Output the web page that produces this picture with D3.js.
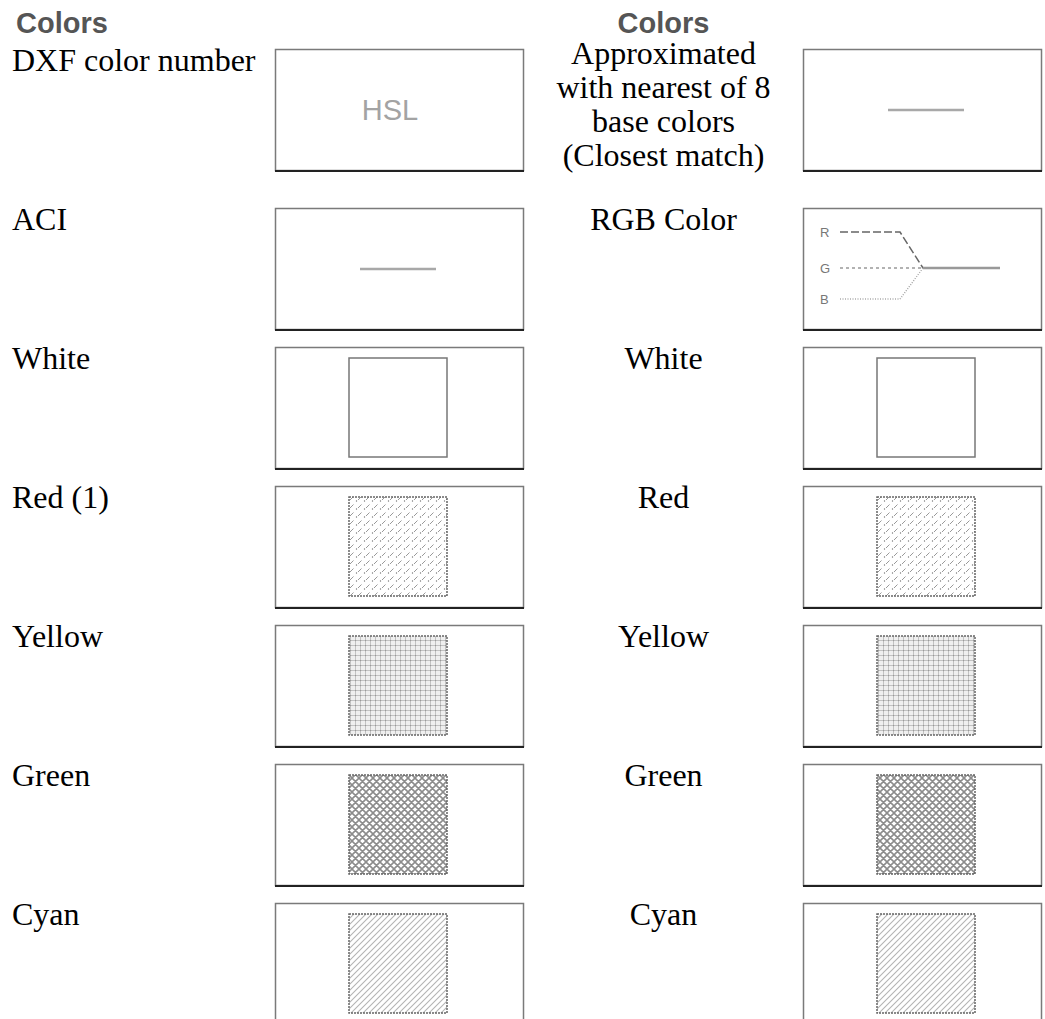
<!DOCTYPE html>
<html>
<head>
<meta charset="utf-8">
<script src="https://cdn.jsdelivr.net/npm/d3@7"></script>
<style>
  body { margin: 0; background: #fff; }
</style>
</head>
<body>
<div id="chart"></div>
<script>
// table content
var headers = ['Colors', 'Colors'];
var leftLabels = ['DXF color number', 'ACI', 'White', 'Red (1)', 'Yellow', 'Green', 'Cyan'];
var rightLabels = [
  ['Approximated', 'with nearest of 8', 'base colors', '(Closest match)'],
  ['RGB Color'], ['White'], ['Red'], ['Yellow'], ['Green'], ['Cyan']
];
var leftSwatches = ['hsl', 'line', 'white', 'red', 'yellow', 'green', 'cyan'];
var rightSwatches = ['line', 'rgb', 'white', 'red', 'yellow', 'green', 'cyan'];
var rgbChannels = ['R', 'G', 'B'];

var width = 1045, height = 1019;
var boxW = 249, boxH = 122,
    lineH = 34,
    firstTop = 49,
    rowGap = 139;
var xLeftText = 12, xLeftBox = 275, xRightBox = 803,
    xRightText = (xLeftBox + boxW + xRightBox) / 2,
    rightBoxW = width - 3 - xRightBox; // page cuts the right column short

// row tops: each row is as tall as its box or its wrapped text
var rowTops = [];
rightLabels.forEach(function(lines, i) {
  if (i === 0) { rowTops.push(firstTop); return; }
  var prev = rightLabels[i - 1].length;
  rowTops.push(rowTops[i - 1] + Math.max(rowGap, prev * lineH + 23));
});

var svg = d3.select('#chart').append('svg')
  .attr('width', width)
  .attr('height', height);

var defs = svg.append('defs');

// red: small slashes with dots
var pRed = defs.append('pattern').attr('id', 'p-red')
  .attr('width', 8).attr('height', 8).attr('patternUnits', 'userSpaceOnUse');
pRed.append('line').attr('x1', 3).attr('y1', 6).attr('x2', 6.5).attr('y2', 2.5)
  .attr('stroke', '#999').attr('stroke-width', 1);
pRed.append('circle').attr('cx', 1.5).attr('cy', 7).attr('r', 0.7).attr('fill', '#777');

// yellow: fine grid
var pYel = defs.append('pattern').attr('id', 'p-yellow')
  .attr('width', 5).attr('height', 5).attr('patternUnits', 'userSpaceOnUse');
pYel.append('rect').attr('width', 5).attr('height', 5).attr('fill', '#efefef');
pYel.append('path').attr('d', 'M0,0.5H5M0.5,0V5')
  .attr('stroke', '#c2c2c2').attr('stroke-width', 1);
pYel.append('circle').attr('cx', 0.5).attr('cy', 0.5).attr('r', 0.7).attr('fill', '#999');

// green: diagonal cross-hatch
var pGrn = defs.append('pattern').attr('id', 'p-green')
  .attr('width', 7).attr('height', 7).attr('patternUnits', 'userSpaceOnUse');
pGrn.append('path').attr('d', 'M0,0L7,7M-1,6L1,8M6,-1L8,1M7,0L0,7M-1,1L1,-1M6,8L8,6')
  .attr('stroke', '#8c8c8c').attr('stroke-width', 1.6);

// cyan: single diagonal hatch
var pCyn = defs.append('pattern').attr('id', 'p-cyan')
  .attr('width', 6).attr('height', 6).attr('patternUnits', 'userSpaceOnUse');
pCyn.append('path').attr('d', 'M0,6L6,0M-1,1L1,-1M5,7L7,5')
  .attr('stroke', '#b4b4b4').attr('stroke-width', 1.1);

var fillFor = { red: 'url(#p-red)', yellow: 'url(#p-yellow)', green: 'url(#p-green)', cyan: 'url(#p-cyan)', white: '#fff' };

// headers
svg.selectAll('text.hdr')
  .data(headers)
  .enter().append('text')
  .attr('class', 'hdr')
  .attr('x', function(d, i) { return i === 0 ? 16 : xRightText; })
  .attr('y', 33)
  .attr('text-anchor', function(d, i) { return i === 0 ? 'start' : 'middle'; })
  .style('font-family', '"Liberation Sans", Arial, sans-serif')
  .style('font-weight', 'bold')
  .style('font-size', '29px')
  .style('fill', '#555')
  .text(function(d) { return d; });

var serif = '"Liberation Serif", "Times New Roman", serif';

// left labels
svg.selectAll('text.left')
  .data(leftLabels)
  .enter().append('text')
  .attr('class', 'left')
  .attr('x', xLeftText)
  .attr('y', function(d, i) { return rowTops[i] + 22; })
  .style('font-family', serif)
  .style('font-size', '32px')
  .style('fill', '#000')
  .text(function(d) { return d; });

// right labels (can wrap)
var rightText = svg.selectAll('text.right')
  .data(rightLabels)
  .enter().append('text')
  .attr('class', 'right')
  .attr('text-anchor', 'middle')
  .style('font-family', serif)
  .style('font-size', '32px')
  .style('fill', '#000')
  .attr('y', function(d, i) { return d.length > 1 ? rowTops[i] + 15 : rowTops[i] + 22; });

rightText.selectAll('tspan')
  .data(function(d) { return d; })
  .enter().append('tspan')
  .attr('x', xRightText)
  .attr('dy', function(d, j) { return j === 0 ? 0 : lineH; })
  .text(function(d) { return d; });

function drawBox(g, kind, w) {
  g.append('rect')
    .attr('x', 0.5).attr('y', 0.5)
    .attr('width', w - 1).attr('height', boxH - 1)
    .attr('fill', '#fff')
    .attr('stroke', '#7a7a7a')
    .attr('stroke-width', 1.5);
  g.append('line')
    .attr('x1', 0).attr('x2', w)
    .attr('y1', boxH).attr('y2', boxH)
    .attr('stroke', '#222')
    .attr('stroke-width', 2);

  var cy = boxH / 2;

  if (kind === 'hsl') {
    g.append('text')
      .attr('x', 115).attr('y', cy + 10)
      .attr('text-anchor', 'middle')
      .style('font-family', '"Liberation Sans", Arial, sans-serif')
      .style('font-size', '29px')
      .style('fill', '#a3a3a3')
      .text('HSL');
  } else if (kind === 'line') {
    g.append('line')
      .attr('x1', 85).attr('x2', 161)
      .attr('y1', cy).attr('y2', cy)
      .attr('stroke', '#a8a8a8').attr('stroke-width', 2.5);
  } else if (kind === 'rgb') {
    var ys = [24, 60, 91];
    var joinX = 120, joinY = ys[1];
    g.selectAll('text.ch')
      .data(rgbChannels)
      .enter().append('text')
      .attr('class', 'ch')
      .attr('x', 17)
      .attr('y', function(d, i) { return ys[i] + 5; })
      .style('font-family', '"Liberation Sans", Arial, sans-serif')
      .style('font-size', '13px')
      .style('fill', '#777')
      .text(function(d) { return d; });
    var dashes = ['8,3', '3,3', '1,1.5'];
    var strokes = ['#666', '#999', '#aaa'];
    var lineGen = d3.line();
    g.selectAll('path.ch')
      .data(rgbChannels)
      .enter().append('path')
      .attr('class', 'ch')
      .attr('d', function(d, i) {
        return i === 1
          ? lineGen([[37, ys[i]], [joinX, joinY]])
          : lineGen([[37, ys[i]], [97, ys[i]], [joinX, joinY]]);
      })
      .attr('fill', 'none')
      .attr('stroke', function(d, i) { return strokes[i]; })
      .attr('stroke-width', 1.5)
      .attr('stroke-dasharray', function(d, i) { return dashes[i]; });
    g.append('line')
      .attr('x1', joinX).attr('x2', 197)
      .attr('y1', joinY).attr('y2', joinY)
      .attr('stroke', '#999').attr('stroke-width', 2.5);
  } else {
    g.append('rect')
      .attr('x', 74).attr('y', 11)
      .attr('width', 98).attr('height', 99)
      .attr('fill', fillFor[kind])
      .attr('stroke', kind === 'white' ? '#777' : '#666')
      .attr('stroke-width', 1.5)
      .attr('stroke-dasharray', kind === 'white' ? null : '2,1');
  }
}

svg.selectAll('g.lbox')
  .data(leftSwatches)
  .enter().append('g')
  .attr('class', 'lbox')
  .attr('transform', function(d, i) { return 'translate(' + xLeftBox + ',' + rowTops[i] + ')'; })
  .each(function(d) { drawBox(d3.select(this), d, boxW); });

svg.selectAll('g.rbox')
  .data(rightSwatches)
  .enter().append('g')
  .attr('class', 'rbox')
  .attr('transform', function(d, i) { return 'translate(' + xRightBox + ',' + rowTops[i] + ')'; })
  .each(function(d) { drawBox(d3.select(this), d, rightBoxW); });
</script>
</body>
</html>
